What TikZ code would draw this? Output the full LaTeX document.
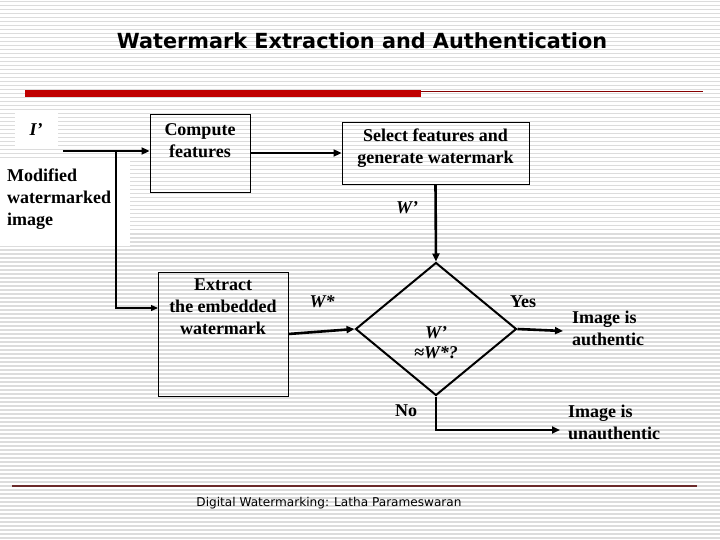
\documentclass[tikz,border=0pt]{standalone}
\usepackage{fontspec}
\setmainfont{Liberation Serif}
\newfontfamily\titlefont{DejaVu Sans}
\newfontfamily\footfont{DejaVu Sans}
\usetikzlibrary{arrows.meta,shapes.geometric}
\definecolor{barred}{HTML}{C00000}
\definecolor{rulered}{HTML}{6B2A2A}
\definecolor{stripe}{HTML}{DCDCDC}

\begin{document}
\begin{tikzpicture}[
  x=1pt, y=-1pt,
  every node/.style={align=center, inner sep=0pt, font=\bfseries\fontsize{18}{22}\selectfont},
  box/.style={draw, line width=0.9pt},
  txt/.style={},
  math/.style={font=\bfseries\itshape\fontsize{18}{20}\selectfont},
  link/.style={line width=2.6pt, -{Triangle[length=8pt,width=7pt]}},
  thinlink/.style={line width=1.3pt, -{Triangle[length=7pt,width=6pt]}},
]
\useasboundingbox (0,0) rectangle (720,540);
% striped slide background
\fill[white] (0,0) rectangle (720,540);
\foreach \y in {1,5,...,537}
  \fill[stripe] (0,\y) rectangle (720,\y+1.5);
\fill[white] (15,112) rectangle (58,148);
\fill[white] (0,158) rectangle (130,246);

% title and rules
\node[font=\titlefont\bfseries\fontsize{20.8}{24}\selectfont] (title) at (362,41) {Watermark Extraction and Authentication};
\fill[barred] (25,90) rectangle (421,97);
\draw[barred!70!black, line width=0.8pt] (421,91) -- (703,91);
\draw[rulered, line width=1.5pt] (12,486) -- (697,486);
\node[font=\footfont\fontsize{12.1}{14}\selectfont] (foot) at (329,503) {Digital Watermarking: Latha Parameswaran};

% input
\node[math] (iprime) at (36,130) {I’};
\node[align=left, anchor=west] (modimg) at (7,199) {Modified\\watermarked\\image};
\coordinate (in) at (63,151);
\coordinate (split) at (116,151);

% boxes
\node[box, minimum width=100pt, minimum height=78pt] (compute) at (200,153) {};
\node[txt] (compute-t) at (200,141) {Compute\\features};
\node[box, minimum width=187pt, minimum height=62pt] (select) at (435.5,153) {};
\node[txt] (select-t) at (435.5,148) {Select features  and\\generate watermark};
\node[box, minimum width=130pt, minimum height=124pt] (extract) at (223,334) {};
\node[txt] (extract-t) at (223,307) {Extract\\the embedded\\watermark};
\node[draw, diamond, line width=2pt, minimum width=161pt, minimum height=133pt] (check) at (436,329) {};
\node[math] (check-t) at (436,343) {W’\\≈W*?};

% outputs
\node[align=left, anchor=west] (auth) at (572,328) {Image is\\authentic};
\node[align=left, anchor=west] (unauth) at (568,422) {Image is\\unauthentic};
\coordinate (ex-in) at (158,308);
\coordinate (yes-end) at (563,331);
\coordinate (no-end) at (560,430);

% connectors
\draw[link] (in) -- (in -| compute.west);
\draw[thinlink] (split) |- (ex-in);
\draw[link] (compute.east) -- (compute.east -| select.west);
\draw[link] (select.south) -- (check.north);
\draw[link] (extract.east) -- (check.west);
\draw[link] (check.east) -- (yes-end);
\draw[link] (check.south) |- (no-end);

% labels
\node[math] (wprime) at (407,208) {W’};
\node[math] (wstar) at (322,302) {W*};
\node (yes) at (523,302) {Yes};
\node (no) at (406,411) {No};
\end{tikzpicture}
\end{document}
